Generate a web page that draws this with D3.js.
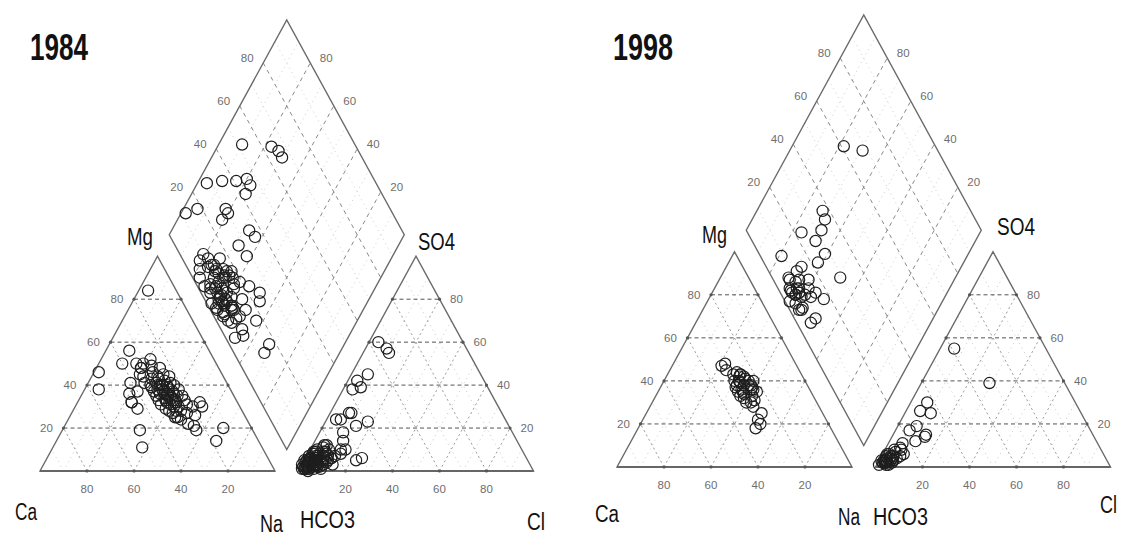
<!DOCTYPE html>
<html><head><meta charset="utf-8">
<script src="https://cdn.jsdelivr.net/npm/d3@7"></script>
<style>body{margin:0;background:#fff}svg{display:block}</style>
</head><body>
<svg id="c" width="1122" height="556"></svg>
<script>
// ---------------- data (percent of meq) ----------------
const tickValues = [20, 40, 60, 80];
const years = ["1984", "1998"];

const ca84 = [34,45,44,30,12,40,34,45,41,52, 56,33,48,31,51,16,16,12,18,28,
              35,44,40,30,
              33,27,34,28,35,29,31,25,33,28, 30,33,25,29,33,26,29,23,33,26,
              29,24,33,26,28,23,30,25,32,27, 22,29,24,31,26,30,22,26,30,22,
              26,22,28,24,20,26,21,24,30,29, 27,31,26,27,31,30,28,28,25,28,
              33,28,28,26,29,24];
const mg84 = [56,32,29,40,84,50,50,32,41,46, 38,48,19,50,11,32,30,20,14,40,
              45,36,37,33,
              48,52,44,49,41,46,43,48,39,44, 41,37,45,40,35,42,38,44,33,40,
              36,41,31,38,35,40,32,37,29,34, 38,31,35,28,32,27,35,30,25,33,
              28,31,24,27,30,22,26,21,34,37, 35,38,39,33,36,33,30,43,36,28,
              40,36,40,33,25,19];
const cl84 = [7,4,9,11,4,8,18,7,24,5, 6,12,14,4,10,15,13,11,8,22,
              6,4,4,9,3,2,5,1,6,4, 7,2,8,3,1,9,4,6,2,5,
              7,3,10,1,5,8,2,4,11,3, 6,0,7,2,5,9,1,12,3,4,
              6,2,8,0,5,3,7,2,10,4, 6,1,9,3,5,2,8,4,13,2,
              3,5,6,4,9,2,7,3,14,5];
const so484 = [45,60,57,55,24,27,23,39,6,7, 12,14,21,6,18,10,10,6,5,5,
               24,42,38,27,4,3,6,2,3,7, 5,1,4,8,5,3,1,9,6,2,
               7,10,4,1,5,8,4,3,6,2, 1,3,9,5,2,6,4,7,1,6,
               4,8,2,5,11,3,2,9,5,0, 3,7,1,4,6,2,10,5,3,1,
               2,4,3,5,7,6,3,9,8,12];

const ca98 = [30,26,29,27,28,30,24,25,29,26, 32,29,32,31,28,
              27,25,29,30,24,31,31,22,31,26, 26,24,30,29,26,28,25,23,27,30,
              25,28,29,24,28];
const mg98 = [48,43,43,42,40,38,38,36,20,25, 18,22,47,45,30,
              38,42,34,40,37,33,37,40,35,33, 43,40,30,36,31,39,38,35,44,32,
              41,28,35,36,40];
const cl98 = [6,29,7,11,6,8,6,14,14,6, 5,3,4,11,3,4,3,5,2,6,
              3,4,1,7,2,5,3,8,1,4, 6,2,5,3,9,2,6,4,5,7];
const so498 = [55,39,30,25,26,19,17,14,15,11, 4,3,5,12,2,4,2,3,5,2,
               6,1,3,4,2,7,3,5,1,8, 3,6,1,4,6,3,9,2,5,8];

// ---------------- layout ----------------
const panels = [
  {title: years[0], ca: ca84, mg: mg84, cl: cl84, so4: so484,
   xr: [40, 533.5], yr: [471, 20],
   text: {title:[30,60,58], Mg:[127,245,26], Ca:[15,520,22], Na:[260,532,23],
          HCO3:[300,528,55], Cl:[527,530,18], SO4:[418,250,37]}},
  {title: years[1], ca: ca98, mg: mg98, cl: cl98, so4: so498,
   xr: [617, 1110.5], yr: [467, 15],
   text: {title:[613,60,60], Mg:[702,243,25], Ca:[595,522,24], Na:[838,525,22],
          HCO3:[873,525,55], Cl:[1100,513,17], SO4:[997,235,38]}}
];

const s3 = Math.sqrt(3) / 2;
const GAP = 10;
const cat = (na, mg) => [na + mg / 2, s3 * mg];
const an = (cl, so4) => [100 + GAP + cl + so4 / 2, s3 * so4];
const dia = (na, cs) => [50 + GAP / 2 + na / 2 + cs / 2, s3 * (100 + GAP + cs - na)];

const svg = d3.select("#c");
svg.append("rect").attr("width", 1122).attr("height", 556).attr("fill", "#fff");

panels.forEach(p => {
  const x = d3.scaleLinear().domain([0, 200 + GAP]).range(p.xr);
  const y = d3.scaleLinear().domain([0, s3 * (200 + GAP)]).range(p.yr);
  const P = d => [x(d[0]), y(d[1])];
  const g = svg.append("g");
  const gGrid = g.append("g"), gFrame = g.append("g"), gTxt = g.append("g"), gPts = g.append("g");

  const line = (a, b, stroke, dash, w) => {
    const A = P(a), B = P(b);
    gGrid.append("line").attr("x1", A[0]).attr("y1", A[1]).attr("x2", B[0]).attr("y2", B[1])
      .attr("stroke", stroke).attr("stroke-width", w).attr("stroke-dasharray", dash);
  };
  const diagMajor = ["#9a9a9a", "2,3", 1], diagMinor = ["#c8c8c8", "1,4", 1];
  const horiz = ["#555", "4,3", 1];

  for (let k = 10; k < 100; k += 10) {
    const st = k % 20 === 0 ? diagMajor : diagMinor;
    line(cat(k, 0), cat(k, 100 - k), ...st);
    line(cat(100 - k, 0), cat(0, 100 - k), ...st);
    line(an(k, 0), an(k, 100 - k), ...st);
    line(an(100 - k, 0), an(0, 100 - k), ...st);
    const dst = k % 20 === 0 ? ["#8a8a8a", "4,4", 1] : ["#cfcfcf", "1,4", 1];
    line(dia(k, 0), dia(k, 100), ...dst);
    line(dia(0, k), dia(100, k), ...dst);
  }
  tickValues.forEach(t => {
    line(cat(0, t), cat(100 - t, t), ...horiz);
    line(an(0, t), an(100 - t, t), ...horiz);
  });

  const poly = pts => gFrame.append("polygon").attr("points", pts.map(P).map(d => d.join(",")).join(" "))
    .attr("fill", "none").attr("stroke", "#6a6a6a").attr("stroke-width", 1.4).attr("stroke-linejoin", "miter");
  poly([cat(0, 0), cat(100, 0), cat(0, 100)]);
  poly([an(0, 0), an(100, 0), an(0, 100)]);
  poly([dia(0, 0), dia(0, 100), dia(100, 100), dia(100, 0)]);
  [[cat(0, 0), cat(100, 0)], [an(0, 0), an(100, 0)]].forEach(([a, b]) => {
    const A = P(a), B = P(b);
    gFrame.append("line").attr("x1", A[0]).attr("y1", A[1]).attr("x2", B[0]).attr("y2", B[1])
      .attr("stroke", "#666").attr("stroke-width", 2);
  });

  const dot = d => { const Q = P(d); gFrame.append("circle").attr("cx", Q[0]).attr("cy", Q[1]).attr("r", 1.6).attr("fill", "#555"); };
  const lab = (d, dx, dy, t) => {
    const Q = P(d);
    gTxt.append("text").attr("x", Q[0] + dx).attr("y", Q[1] + dy).attr("text-anchor", "middle")
      .attr("font-family", "Liberation Sans, Arial, sans-serif").attr("font-size", 11.5)
      .attr("fill", "#6e6e6e").text(t);
  };
  tickValues.forEach(t => {
    dot(cat(100 - t, 0)); lab(cat(100 - t, 0), 0, 22, t);
    dot(cat(0, t)); dot(cat(100 - t, t)); lab(cat(0, t), -17, 4, t);
    dot(an(t, 0)); lab(an(t, 0), 0, 22, t);
    dot(an(0, t)); dot(an(100 - t, t)); lab(an(100 - t, t), 17, 4, t);
    lab(dia(0, t), -16, -1, t);
    lab(dia(100 - t, 100), 16, -1, t);
  });

  const big = (key, label, size, weight) => {
    const [tx, ty, len] = p.text[key];
    gTxt.append("text").attr("x", tx).attr("y", ty)
      .attr("font-family", "Liberation Sans, Arial, sans-serif").attr("font-size", size)
      .attr("font-weight", weight).attr("fill", "#111")
      .attr("textLength", len).attr("lengthAdjust", "spacingAndGlyphs").text(label);
  };
  big("title", p.title, 36, "bold");
  ["Mg", "Ca", "Na", "HCO3", "Cl", "SO4"].forEach(k => big(k, k, 23, "normal"));

  p.ca.forEach((ca, i) => {
    const mg = p.mg[i], na = 100 - ca - mg;
    const cl = p.cl[i], so4 = p.so4[i], cs = cl + so4;
    [cat(na, mg), an(cl, so4), dia(na, cs)].forEach(d => {
      const Q = P(d);
      gPts.append("circle").attr("cx", Q[0]).attr("cy", Q[1]).attr("r", 5.6)
        .attr("fill", "none").attr("stroke", "#1e1e1e").attr("stroke-width", 1.2);
    });
  });
});
</script>
</body></html>
